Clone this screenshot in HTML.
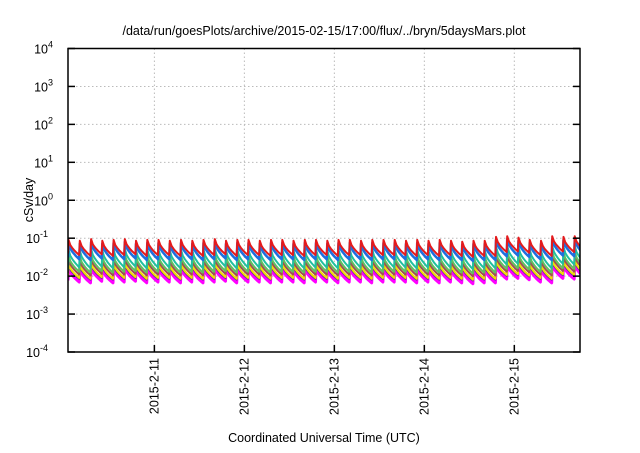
<!DOCTYPE html>
<html><head><meta charset="utf-8"><style>
body{margin:0;background:#fff}
svg text{font-family:"Liberation Sans",Arial,sans-serif;fill:#000}
</style></head><body>
<svg id="chart" width="640" height="448" viewBox="0 0 640 448" xmlns="http://www.w3.org/2000/svg">
<rect width="640" height="448" fill="#fff"/>
<text x="324" y="35" font-size="12.5" text-anchor="middle">/data/run/goesPlots/archive/2015-02-15/17:00/flux/../bryn/5daysMars.plot</text>
<text transform="translate(33,200) rotate(-90)" font-size="12.5" text-anchor="middle">cSv/day</text>
<text x="324" y="442" font-size="12.5" text-anchor="middle">Coordinated Universal Time (UTC)</text>
<g id="grid"></g>
<g id="series"></g>
<rect x="68" y="48.5" width="512" height="303.5" fill="none" stroke="#000" stroke-width="1.5"/>
<g id="axes"></g>
</svg>
<script>
const yTickExps = [4,3,2,1,0,-1,-2,-3,-4];
const xTickLabels = ["2015-2-11","2015-2-12","2015-2-13","2015-2-14","2015-2-15"];
const xTickDays = [11,12,13,14,15];
const toothHours = 3;
const startDay = 10.04;
const endDay = 15.73;
// shared per-tooth envelope multiplier (46 teeth)
const envelope = [1,0.95,1.05,0.95,1,1.05,0.95,1,1,0.95,1,0.95,1,1.05,0.95,1,1,0.95,1,1,0.95,1,1,0.95,1,1,0.95,1,1,1,0.95,1,0.95,1,0.95,0.9,0.95,0.95,1.2,1.25,1.15,1.0,0.95,1.25,1.2,1.25];
const seriesNames = ["red","blue","teal","green","brown","yellow","purple","magenta"];
const seriesColors = ["#e41a1c","#1e6fe0","#20c0a0","#60c060","#a05050","#f0e000","#6030a0","#ff00ff"];
const seriesPeaks = [0.09,0.075,0.05,0.035,0.028,0.022,0.02,0.017];
const seriesTroughs = [0.036,0.028,0.017,0.013,0.011,0.009,0.0085,0.007];
const seriesWidths = [2,2.5,2,2,2,2,2,3];

const X0=68,X1=580,Y0=48.5,Y1=352;
const NS="http://www.w3.org/2000/svg";
function xScale(d){return X0+(d-startDay)/(endDay-startDay)*(X1-X0);}
function yScale(v){return Y0+(4-Math.log10(v))/8*(Y1-Y0);}
function mk(t,a){const e=document.createElementNS(NS,t);for(const k in a)e.setAttribute(k,a[k]);return e;}
const grid=document.getElementById('grid'),axes=document.getElementById('axes'),ser=document.getElementById('series');
yTickExps.forEach(e=>{
  const y=yScale(Math.pow(10,e));
  if(e<4&&e>-4){const g=mk('line',{x1:X0,x2:X1,y1:y,y2:y,stroke:'#bbb','stroke-dasharray':'1.5,2.5'});
  
  grid.appendChild(g);}
  const t1=mk('line',{x1:X0,x2:X0+7,y1:y,y2:y,stroke:'#000','stroke-width':1.5});
  
  axes.appendChild(t1);
  const t2=mk('line',{x1:X1-7,x2:X1,y1:y,y2:y,stroke:'#000','stroke-width':1.5});
  
  axes.appendChild(t2);
  const tx=mk('text',{x:58,y:y+5,'font-size':12.5,'text-anchor':'end'});
  
  
  tx.textContent='10';
  const sp=mk('tspan',{dy:-6,'font-size':9});sp.textContent=String(e);tx.appendChild(sp);
  tx.setAttribute('x',String(58-(String(e).length)*5));
  axes.appendChild(tx);
});
xTickDays.forEach((d,i)=>{
  const x=xScale(d);
  const g=mk('line',{x1:x,x2:x,y1:Y0,y2:Y1,stroke:'#bbb','stroke-dasharray':'1.5,2.5'});
  
  grid.appendChild(g);
  const t=mk('line',{x1:x,x2:x,y1:Y1-7,y2:Y1,stroke:'#000','stroke-width':1.5});
  
  axes.appendChild(t);
  const tx=mk('text',{transform:`translate(${x+4},358) rotate(-90)`,'font-size':12.5,'text-anchor':'end'});
  
  
  tx.textContent=xTickLabels[i];axes.appendChild(tx);
});
const cp=mk('clipPath',{id:'clip'});cp.appendChild(mk('rect',{x:X0,y:Y0,width:X1-X0,height:Y1-Y0}));
document.getElementById('chart').appendChild(cp);
ser.setAttribute('clip-path','url(#clip)');
for(let s=seriesNames.length-1;s>=0;s--){
  let pts=[];
  envelope.forEach((m,i)=>{
    const d0=startDay+i*toothHours/24,d1=d0+toothHours/24;
    const pk=seriesPeaks[s]*m,tr=seriesTroughs[s]*m;
    if(i===0)pts.push([xScale(d0),yScale(tr*1.1)]);
    for(let k=0;k<=6;k++){
      const f=k/6, v=pk*Math.pow(tr/pk,Math.pow(f,0.6));
      pts.push([xScale(d0+0.15/24+f*(d1-d0-0.15/24)),yScale(v)]);
    }
  });
  const p=mk('polyline',{points:pts.map(p=>p[0].toFixed(1)+','+p[1].toFixed(1)).join(' '),fill:'none',stroke:seriesColors[s],'stroke-width':seriesWidths[s],'stroke-linejoin':'round'});
  
  
  ser.appendChild(p);
}
</script>
</body></html>
